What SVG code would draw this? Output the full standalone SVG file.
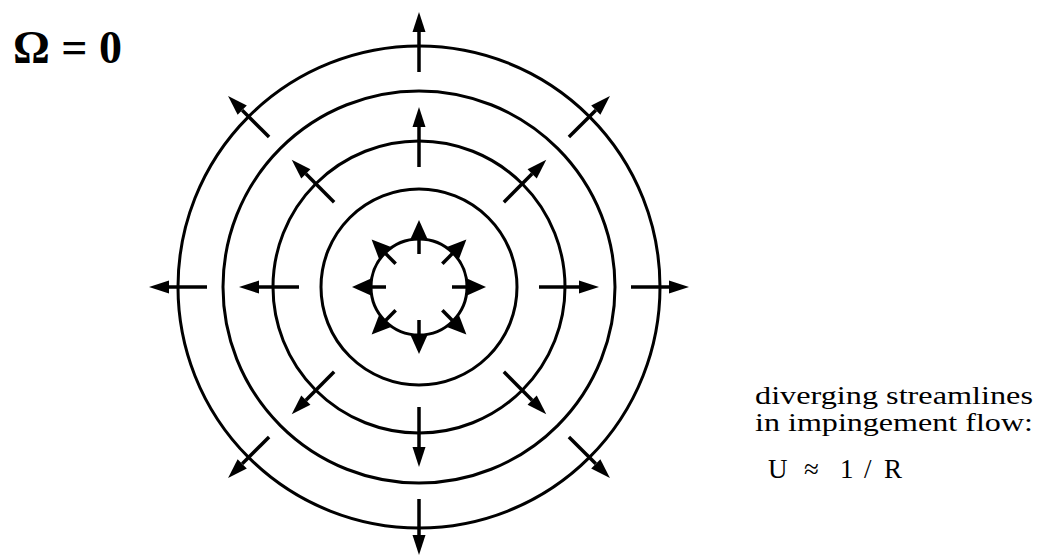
<svg xmlns="http://www.w3.org/2000/svg" width="1040" height="556" viewBox="0 0 1040 556">
  <defs>
    <marker id="head" markerUnits="userSpaceOnUse" markerWidth="22" markerHeight="16" refX="0" refY="0" viewBox="0 -8 22 16" orient="auto" overflow="visible">
      <path d="M0,-6.5 L20,0 L0,6.5 Z" fill="#000"/>
    </marker>
    <marker id="headS" markerUnits="userSpaceOnUse" markerWidth="22" markerHeight="20" refX="0" refY="0" viewBox="0 -10 22 20" orient="auto" overflow="visible">
      <path d="M0,-8.5 L19,0 L0,8.5 Z" fill="#000"/>
    </marker>
  </defs>
  <style>
    .ring { fill: none; stroke: #000; stroke-width: 3; }
    .arr { stroke: #000; stroke-width: 3.5; fill: none; marker-end: url(#head); }
    .arrS { stroke: #000; stroke-width: 3.5; fill: none; marker-end: url(#headS); }
    .title { font-family: "Liberation Serif", "Times New Roman", serif; font-weight: bold; font-size: 46px; fill: #000; }
    .note { font-family: "Liberation Serif", "Times New Roman", serif; font-size: 26px; fill: #000; }
    .eq { font-family: "Liberation Serif", "Times New Roman", serif; font-size: 27px; fill: #000; }
  </style>
  <rect width="1040" height="556" fill="#fff"/>

  <g id="rings">
    <circle id="ring1" class="ring" cx="419" cy="287" r="48"/>
    <circle id="ring2" class="ring" cx="419" cy="287" r="98"/>
    <circle id="ring3" class="ring" cx="419" cy="287" r="146"/>
    <circle id="ring4" class="ring" cx="419" cy="287" r="196"/>
    <circle id="ring5" class="ring" cx="419" cy="287" r="241"/>
  </g>

  <g id="connectors">
    <!-- inner set -->
    <line class="arrS" x1="452" y1="287" x2="467" y2="287"/>
    <line class="arrS" x1="386" y1="287" x2="371" y2="287"/>
    <line class="arrS" x1="419" y1="254" x2="419" y2="239"/>
    <line class="arrS" x1="419" y1="320" x2="419" y2="335"/>
    <line class="arrS" x1="442.33" y1="263.67" x2="452.94" y2="253.06"/>
    <line class="arrS" x1="395.67" y1="263.67" x2="385.06" y2="253.06"/>
    <line class="arrS" x1="442.33" y1="310.33" x2="452.94" y2="320.94"/>
    <line class="arrS" x1="395.67" y1="310.33" x2="385.06" y2="320.94"/>
    <!-- middle set -->
    <line class="arr" x1="539" y1="287" x2="579" y2="287"/>
    <line class="arr" x1="299" y1="287" x2="259" y2="287"/>
    <line class="arr" x1="419" y1="167" x2="419" y2="127"/>
    <line class="arr" x1="419" y1="407" x2="419" y2="447"/>
    <line class="arr" x1="503.85" y1="202.15" x2="532.14" y2="173.86"/>
    <line class="arr" x1="334.15" y1="202.15" x2="305.86" y2="173.86"/>
    <line class="arr" x1="503.85" y1="371.85" x2="532.14" y2="400.14"/>
    <line class="arr" x1="334.15" y1="371.85" x2="305.86" y2="400.14"/>
    <!-- outer set -->
    <line class="arr" x1="631" y1="287" x2="669" y2="287"/>
    <line class="arr" x1="207" y1="287" x2="169" y2="287"/>
    <line class="arr" x1="419" y1="72" x2="419" y2="32"/>
    <line class="arr" x1="419" y1="499" x2="419" y2="535"/>
    <line class="arr" x1="568.91" y1="137.09" x2="595.78" y2="110.22"/>
    <line class="arr" x1="269.09" y1="137.09" x2="242.22" y2="110.22"/>
    <line class="arr" x1="568.91" y1="436.91" x2="595.78" y2="463.78"/>
    <line class="arr" x1="269.09" y1="436.91" x2="242.22" y2="463.78"/>
  </g>

  <g id="title">
    <text class="title" x="13" y="63">Ω = 0</text>
  </g>

  <g id="caption">
    <text class="note" x="755" y="404" textLength="278" lengthAdjust="spacingAndGlyphs">diverging streamlines</text>
    <text class="note" x="755" y="431" textLength="278" lengthAdjust="spacingAndGlyphs">in impingement flow:</text>
    <text class="eq" y="478"><tspan x="768">U</tspan><tspan x="804">≈</tspan><tspan x="840">1</tspan><tspan x="864">/</tspan><tspan x="884">R</tspan></text>
  </g>
</svg>
